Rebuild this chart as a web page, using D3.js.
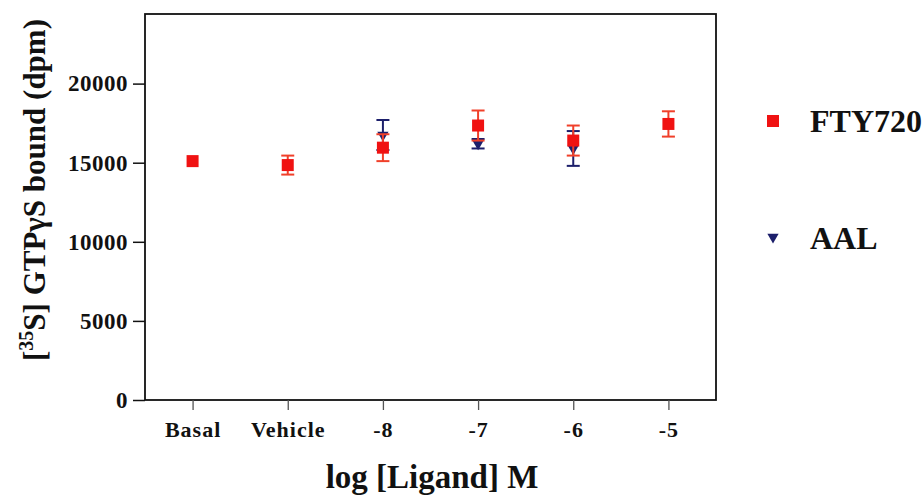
<!DOCTYPE html>
<html><head><meta charset="utf-8">
<script src="https://cdn.jsdelivr.net/npm/d3@7/dist/d3.min.js"></script>
<style>body{margin:0;background:#fff}svg{display:block}</style>
</head><body><svg id="c" width="923" height="496" font-family="Liberation Serif, Times New Roman, serif" font-weight="bold"></svg>
<script>
const categories = ["Basal","Vehicle","-8","-7","-6","-5"];
const yTicks = [0,5000,10000,15000,20000];
const ftyMean = [15100,14850,15950,17350,16400,17450];
const ftyErr  = [200,600,850,950,950,800];
const aalCats = ["-8","-7","-6"];
const aalMean = [16750,16200,15900];
const aalErr  = [950,300,1100];

const FONT = "Liberation Serif";
const svg = d3.select("#c");
const L=145, R=716, T=14, B=400;
const x = d3.scalePoint().domain(categories).range([L,R]).padding(0.5);
const y = d3.scaleLinear().domain([0,24400]).range([B,T]);
const red="#f01212", redE="#f0402a", blue="#1c1f6b";

svg.append("rect").attr("x",L).attr("y",T).attr("width",R-L).attr("height",B-T)
  .attr("fill","none").attr("stroke","#111").attr("stroke-width",1.8);

const ya = svg.append("g").attr("transform",`translate(${L},0)`)
  .call(d3.axisLeft(y).tickValues(yTicks).tickFormat(d3.format("d")).tickSize(12).tickSizeOuter(0).tickPadding(5));
ya.attr("font-family",FONT).attr("font-weight","bold");
ya.select(".domain").remove();
ya.selectAll("line").attr("stroke","#111").attr("stroke-width",1.5);
ya.selectAll("text").attr("font-family",FONT).attr("font-size",23).attr("letter-spacing",0.5).attr("fill","#111");

const xa = svg.append("g").attr("transform",`translate(0,${B})`)
  .call(d3.axisBottom(x).tickSize(10).tickSizeOuter(0).tickPadding(11));
xa.attr("font-family",FONT).attr("font-weight","bold");
xa.select(".domain").remove();
xa.selectAll("line").attr("stroke","#555").attr("stroke-width",1.3);
xa.selectAll("text").attr("font-family",FONT).attr("font-size",22).attr("letter-spacing",1).attr("fill","#111");

function errBars(cats, mean, err, col){
  const g = svg.append("g").attr("stroke",col).attr("stroke-width",2);
  cats.forEach((c,i)=>{
    const cx=x(c), y1=y(mean[i]+err[i]), y2=y(mean[i]-err[i]);
    g.append("line").attr("x1",cx).attr("x2",cx).attr("y1",y1).attr("y2",y2);
    g.append("line").attr("x1",cx-6.5).attr("x2",cx+6.5).attr("y1",y1).attr("y2",y1);
    g.append("line").attr("x1",cx-6.5).attr("x2",cx+6.5).attr("y1",y2).attr("y2",y2);
  });
}
errBars(aalCats, aalMean, aalErr, blue);
const tri = d3.symbol().type(d3.symbolTriangle).size(55);
svg.append("g").selectAll("path").data(aalCats).join("path")
  .attr("d",tri).attr("fill",blue)
  .attr("transform",(c,i)=>`translate(${x(c)},${y(aalMean[i])}) rotate(180)`);
errBars(categories.filter((c,i)=>ftyErr[i]>250), ftyMean.filter((v,i)=>ftyErr[i]>250), ftyErr.filter(v=>v>250), redE);
svg.append("g").selectAll("rect").data(categories).join("rect")
  .attr("x",c=>x(c)-6).attr("y",(c,i)=>y(ftyMean[i])-6).attr("width",12).attr("height",12).attr("fill",red);

// legend
svg.append("rect").attr("x",767).attr("y",115).attr("width",12).attr("height",12).attr("fill",red);
svg.append("text").attr("x",810).attr("y",131.5).attr("font-family",FONT).attr("font-size",32).attr("fill","#111").text("FTY720");
svg.append("path").attr("d",tri).attr("fill",blue).attr("transform","translate(773,237) rotate(180)");
svg.append("text").attr("x",810).attr("y",248.5).attr("font-family",FONT).attr("font-size",32).attr("fill","#111").text("AAL");

// axis titles
svg.append("text").attr("x",432).attr("y",488).attr("text-anchor","middle").attr("font-family",FONT).attr("font-size",33).attr("fill","#111").text("log [Ligand] M");
const yl = svg.append("text").attr("transform","translate(45,190) rotate(-90)").attr("text-anchor","middle").attr("font-family",FONT).attr("font-size",31).attr("fill","#111");
yl.append("tspan").text("[");
yl.append("tspan").attr("font-size",20).attr("dy",-12).text("35");
yl.append("tspan").attr("dy",12).text("S] GTPγS bound (dpm)");
</script></body></html>
